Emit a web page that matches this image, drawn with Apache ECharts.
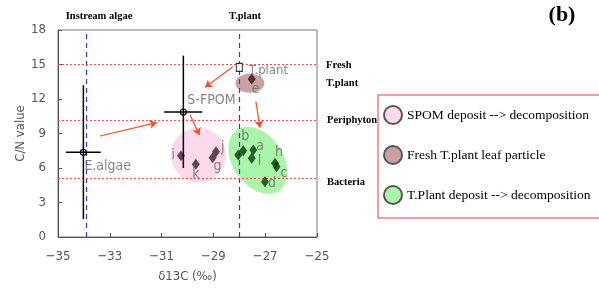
<!DOCTYPE html>
<html>
<head>
<meta charset="utf-8">
<script src="https://cdn.jsdelivr.net/npm/echarts@6/dist/echarts.min.js"></script>
<style>
  html, body { margin: 0; padding: 0; background: #fff; }
  #Map { width: 599px; height: 293px; }
</style>
</head>
<body>
<div id="Map"></div>
<script>
var myChart = echarts.init(document.getElementById("Map"));

// points: [d13C, C/N, label]
var spomPts = [[-30.25, 7.07, 'i'], [-29.68, 6.32, 'k'], [-29.03, 6.9, 'g'], [-28.9, 7.42, 'j']];
var freshPts = [[-27.52, 13.74, 'e']];
var tplantPts = [[-28.04, 7.13, ''], [-27.85, 7.5, 'b'], [-27.46, 7.57, 'a'], [-27.52, 6.84, 'l'],
                 [-26.62, 6.41, 'h'], [-26.56, 6.11, 'c'], [-27.01, 4.81, 'd']];
// end members: [x, y, xlo, xhi, ylo, yhi, name]
var endMembers = [[-34.02, 7.36, -34.7, -33.35, 1.55, 13.2, 'E.algae'],
                  [-30.16, 10.87, -30.9, -29.43, 6.0, 15.77, 'S-FPOM']];
var tplantSrc = [[-28.0, 14.75, 'T.plant']];
// ellipses: [cx, cy, rx, ry] in data units
var spomEllipse = [[-29.58, 7.13, 1.06, 2.39]];
var freshEllipse = [[-27.59, 13.37, 0.56, 0.83]];
var tplantEllipse = [[-27.28, 6.67, 0.965, 3.22]];
// arrows
var arrows = [
  [[-33.38, 8.78], [-31.19, 9.94]],
  [[-28.25, 14.8], [-29.32, 13.02]],
  [[-29.9, 10.6], [-29.54, 8.87]],
  [[-27.36, 11.77], [-27.2, 9.5]]
];
var vLines = [-33.9, -28];
var hLines = [15, 10.13, 5.1];

var labelPos = { i: 'left', k: 'bottom', g: 'bottom', j: 'right', b: 'top', a: 'right', l: 'right',
                 h: 'top', c: 'right', d: 'right', e: 'bottom' };
var labelOff = { i: [0, 0], k: [0, -4], g: [5, -6], j: [-1, -4], b: [2, 0], a: [-3, -4], l: [0, 3],
                 h: [4, 4], c: [-2, 7], d: [-3, 2], e: [4, -4] };

var grayText = { fontFamily: 'DejaVu Sans Condensed', color: '#555', fontSize: 13 };

function ellipseSeries(name, data, color, rot) {
  return {
    name: name,
    type: 'custom',
    z: 1,
    itemStyle: { color: color, borderColor: '#555', borderWidth: 1 },
    renderItem: function (params, api) {
      var c = api.coord([api.value(0), api.value(1)]);
      var s = api.size([api.value(2), api.value(3)]);
      return {
        type: 'ellipse',
        shape: { cx: 0, cy: 0, rx: s[0], ry: s[1] },
        x: c[0], y: c[1], rotation: rot,
        style: { fill: color }
      };
    },
    data: data
  };
}

function pointSeries(data, color) {
  return {
    type: 'scatter',
    z: 5,
    symbol: 'diamond',
    symbolSize: [8, 11],
    itemStyle: { color: color },
    data: data.map(function (p) {
      return {
        value: [p[0], p[1]],
        label: {
          show: true, formatter: p[2], position: labelPos[p[2]] || 'right',
          offset: labelOff[p[2]] || [0, 0], distance: 2,
          fontFamily: grayText.fontFamily, color: '#666', fontSize: 14
        }
      };
    })
  };
}

var serifBold = 'bold 10.5px "Liberation Serif"';

var option = {
  animation: false,
  grid: { left: 58, top: 30, right: 282, bottom: 56, show: true, borderColor: '#777', borderWidth: 1 },
  legend: {
    left: 378, top: 100, orient: 'vertical',
    itemWidth: 18, itemHeight: 20, itemGap: 20,
    icon: 'circle',
    textStyle: { fontFamily: 'Liberation Serif', fontSize: 13.5, color: '#000' },
    data: ['SPOM deposit --> decomposition', 'Fresh T.plant leaf particle', 'T.Plant deposit --> decomposition']
  },
  xAxis: {
    type: 'value', min: -35, max: -25, interval: 2,
    name: 'δ13C (‰)', nameLocation: 'middle', nameGap: 33,
    nameTextStyle: grayText,
    axisLine: { lineStyle: { color: '#555' } },
    axisTick: { inside: true, length: 4, lineStyle: { color: '#555' } },
    axisLabel: Object.assign({ margin: 13, formatter: function (v) { return String(v).replace('-', '−'); } }, grayText),
    splitLine: { show: false }
  },
  yAxis: {
    type: 'value', min: 0, max: 18, interval: 3,
    name: 'C/N value', nameLocation: 'middle', nameGap: 31,
    nameTextStyle: grayText,
    axisLine: { show: true, lineStyle: { color: '#555' } },
    axisTick: { show: true, inside: true, length: 4, lineStyle: { color: '#555' } },
    axisLabel: Object.assign({ margin: 12 }, grayText),
    splitLine: { show: false }
  },
  graphic: [
    { type: 'rect', shape: { x: 378, y: 95, width: 240, height: 123 },
      style: { fill: 'none', stroke: '#f08080', lineWidth: 1.5 } },
    { type: 'text', x: 99, y: 16, style: { text: 'Instream algae', font: serifBold, fill: '#000', align: 'center', verticalAlign: 'middle' } },
    { type: 'text', x: 245, y: 16, style: { text: 'T.plant', font: serifBold, fill: '#000', align: 'center', verticalAlign: 'middle' } },
    { type: 'text', x: 326, y: 65, style: { text: 'Fresh', font: serifBold, fill: '#000', verticalAlign: 'middle' } },
    { type: 'text', x: 326, y: 83, style: { text: 'T.plant', font: serifBold, fill: '#000', verticalAlign: 'middle' } },
    { type: 'text', x: 327, y: 120, style: { text: 'Periphyton', font: serifBold, fill: '#000', verticalAlign: 'middle' } },
    { type: 'text', x: 327, y: 182, style: { text: 'Bacteria', font: serifBold, fill: '#000', verticalAlign: 'middle' } },
    { type: 'text', x: 562, y: 15, style: { text: '(b)', font: 'bold 22px "Liberation Serif"', fill: '#000', align: 'center', verticalAlign: 'middle' } }
  ],
  series: [
    ellipseSeries('SPOM deposit --> decomposition', spomEllipse, '#fdd9ec', 0),
    ellipseSeries('Fresh T.plant leaf particle', freshEllipse, '#c9a3a3', 0),
    ellipseSeries('T.Plant deposit --> decomposition', tplantEllipse, '#a9f5a9', 0.61),
    {
      type: 'scatter', symbolSize: 0, data: [],
      markLine: {
        silent: true, symbol: ['none', 'none'], label: { show: false },
        data: vLines.map(function (v) {
          return { xAxis: v, lineStyle: { color: '#3838e0', type: [5, 4], width: 1.2 } };
        }).concat(hLines.map(function (v) {
          return { yAxis: v, lineStyle: { color: '#ff4a4a', type: [2, 2], width: 1 } };
        }))
      }
    },
    {
      type: 'custom', z: 6,
      renderItem: function (params, api) {
        var c = api.coord([api.value(0), api.value(1)]);
        var x0 = api.coord([api.value(2), api.value(1)]);
        var x1 = api.coord([api.value(3), api.value(1)]);
        var y0 = api.coord([api.value(0), api.value(4)]);
        var y1 = api.coord([api.value(0), api.value(5)]);
        var st = { stroke: '#000', lineWidth: 1.5 };
        return {
          type: 'group',
          children: [
            { type: 'line', shape: { x1: x0[0], y1: x0[1], x2: x1[0], y2: x1[1] }, style: st },
            { type: 'line', shape: { x1: y0[0], y1: y0[1], x2: y1[0], y2: y1[1] }, style: st },
            { type: 'circle', shape: { cx: c[0], cy: c[1], r: 3 }, style: { fill: 'none', stroke: '#000', lineWidth: 1.2 } }
          ]
        };
      },
      data: endMembers.map(function (p) { return p.slice(0, 6); })
    },
    {
      type: 'scatter', z: 7, symbolSize: 0,
      label: { show: true, formatter: function (p) { return endMembers[p.dataIndex][6]; },
               position: 'right', fontFamily: grayText.fontFamily, color: '#666', fontSize: 14 },
      data: [
        { value: [endMembers[0][0], endMembers[0][1]], label: { offset: [-4, 14] } },
        { value: [endMembers[1][0], endMembers[1][1]], label: { offset: [-1, -12] } }
      ]
    },
    {
      type: 'scatter', z: 7, symbol: 'rect', symbolSize: [6, 8],
      itemStyle: { color: '#fff', borderColor: '#000', borderWidth: 1.2 },
      label: { show: true, formatter: tplantSrc[0][2], position: 'right', offset: [1, 3],
               fontFamily: grayText.fontFamily, color: '#666', fontSize: 13 },
      data: tplantSrc.map(function (p) { return [p[0], p[1]]; })
    },
    {
      type: 'lines', coordinateSystem: 'cartesian2d', z: 8,
      symbol: ['none', 'arrow'], symbolSize: 7,
      lineStyle: { color: '#ff4a24', width: 1.2, opacity: 1 },
      data: arrows.map(function (a) { return { coords: a }; })
    },
    pointSeries(spomPts, '#3e1e2c'),
    pointSeries(freshPts, '#2e0e0e'),
    pointSeries(tplantPts, '#063806')
  ]
};
myChart.setOption(option);
</script>
</body>
</html>
